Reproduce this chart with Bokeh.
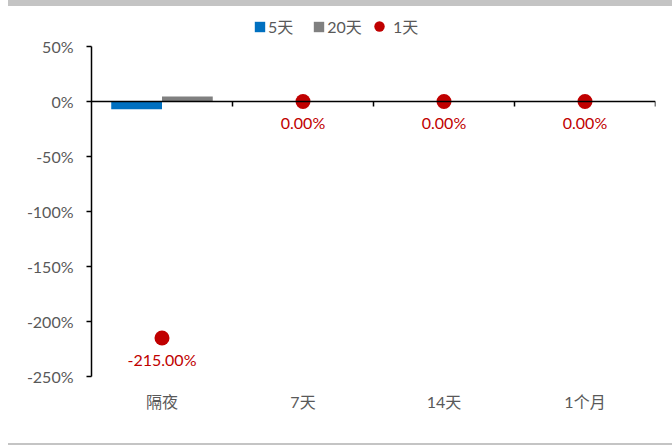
from bokeh.plotting import figure
from bokeh.layouts import column
from bokeh.models import (FactorRange, Range1d, FixedTicker, PrintfTickFormatter,
                          Legend, LegendItem, ColumnDataSource, Span, Div)
from bokeh.transform import dodge
from bokeh.core.properties import value
from bokeh.embed import file_html
from bokeh.resources import INLINE

categories = ["隔夜", "7天", "14天", "1个月"]
five_day = [-7.0, 0.0, 0.0, 0.0]
twenty_day = [4.5, 0.0, 0.0, 0.0]
one_day = [-215.0, 0.0, 0.0, 0.0]
one_day_labels = ["-215.00%", "0.00%", "0.00%", "0.00%"]
y_ticks = [-250, -200, -150, -100, -50, 0, 50]

FONT = "Lato, 'Noto Sans CJK SC'"
GRAY_TXT = "#595959"
RED = "#c00000"
FS = "16px"

src = ColumnDataSource(dict(cat=categories, five=five_day, twenty=twenty_day,
                            one=one_day, lab=one_day_labels,
                            zero=[0.0] * len(categories), tick=[-4.5] * len(categories)))

# frame spans page y 10..376 ; 1.1 px per percent
p = figure(width=672, height=437, x_range=FactorRange(*categories),
           y_range=Range1d(-250, 50 + 36 / 1.1),
           output_backend="svg", toolbar_location=None,
           min_border_left=91, min_border_right=17, min_border_top=4, min_border_bottom=67)
p.outline_line_color = None
p.xgrid.grid_line_color = None
p.ygrid.grid_line_color = None
p.x_range.range_padding = 0

b1 = p.vbar(x=dodge("cat", -0.18, range=p.x_range), top="five", bottom="zero", width=0.36,
            source=src, fill_color="#0070c0", line_color=None)
b2 = p.vbar(x=dodge("cat", 0.18, range=p.x_range), top="twenty", bottom="zero", width=0.36,
            source=src, fill_color="#808080", line_color=None)

# zero line with boundary ticks
p.add_layout(Span(location=0, dimension="width", line_color="black", line_width=1.5))
p.segment(x0=dodge("cat", 0.5, range=p.x_range), x1=dodge("cat", 0.5, range=p.x_range),
          y0="zero", y1="tick", source=src, line_color="black", line_width=1.5)

dots = p.scatter(x="cat", y="one", source=src, size=15, fill_color=RED, line_color=None)
p.text(x="cat", y="one", text="lab", source=src, text_color=RED, text_font=value(FONT),
       text_font_size=FS, text_align="center", text_baseline="middle", y_offset=21)

p.yaxis.ticker = FixedTicker(ticks=y_ticks)
p.yaxis.bounds = (y_ticks[0], y_ticks[-1])
p.yaxis.formatter = PrintfTickFormatter(format="%d%%")
p.yaxis.axis_line_color = "black"
p.yaxis.axis_line_width = 1.5
p.yaxis.major_tick_line_color = "black"
p.yaxis.major_tick_line_width = 1.5
p.yaxis.major_tick_in = 0
p.yaxis.major_tick_out = 5
p.yaxis.minor_tick_line_color = None
p.yaxis.major_label_text_font = FONT
p.yaxis.major_label_text_font_size = FS
p.yaxis.major_label_text_color = GRAY_TXT
p.yaxis.major_label_standoff = 13

p.xaxis.axis_line_color = None
p.xaxis.major_tick_line_color = None
p.xaxis.major_tick_out = 0
p.xaxis.major_tick_in = 0
p.xaxis.minor_tick_line_color = None
p.xaxis.major_label_text_font = FONT
p.xaxis.major_label_text_font_size = FS
p.xaxis.major_label_text_color = GRAY_TXT
p.xaxis.major_label_standoff = 15

common = dict(orientation="horizontal", label_text_font=FONT, label_text_font_size=FS,
              label_text_color=GRAY_TXT, padding=0, margin=0, border_line_color=None,
              background_fill_alpha=0)
legend1 = Legend(items=[LegendItem(label="5天", renderers=[b1]),
                        LegendItem(label="20天", renderers=[b2])],
                 location=(162, 338), glyph_width=13, glyph_height=13,
                 label_standoff=2, spacing=19, **common)
legend2 = Legend(items=[LegendItem(label="1天", renderers=[dots])],
                 location=(275, 334), glyph_width=26, glyph_height=32,
                 label_standoff=1, spacing=0, **common)
p.add_layout(legend1, "center")
p.add_layout(legend2, "center")

top_band = Div(text="", width=664, height=6, margin=(0, 0, 0, 8),
               styles={"background-color": "#c4c4c4"})
bottom_band = Div(text="", width=664, height=2, margin=(0, 0, 0, 8),
                  styles={"background-color": "#c4c4c4"})

layout = column(top_band, p, bottom_band, spacing=0, margin=0)
open("out.html", "w").write(file_html(layout, INLINE))
